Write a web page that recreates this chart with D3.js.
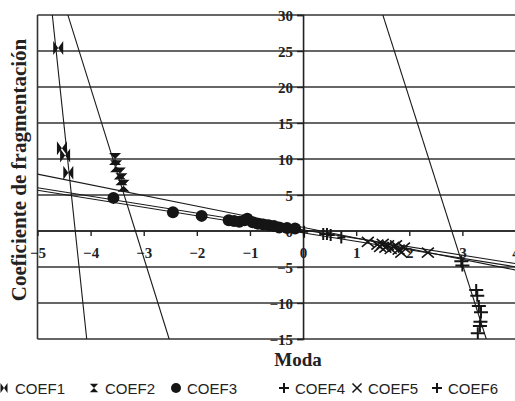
<!DOCTYPE html>
<html>
<head>
<meta charset="utf-8">
<script src="https://cdn.jsdelivr.net/npm/d3@7/dist/d3.min.js"></script>
<style>
  body { margin: 0; background: #fff; }
  svg { display: block; }
</style>
</head>
<body>
<svg id="chart"></svg>
<script>
const WIDTH = 515;
const HEIGHT = 401;
const PLOT = { left: 37.5, right: 515.5, top: 15, bottom: 339 };
const INK = "#151515";

// tick values
const xTicks = [-5, -4, -3, -2, -1, 0, 1, 2, 3, 4];
const yTicks = [-15, -10, -5, 0, 5, 10, 15, 20, 25, 30];

// series
const seriesNames = ["COEF1", "COEF2", "COEF3", "COEF4", "COEF5", "COEF6"];
const coef1X = [-4.61, -4.54, -4.48, -4.42];
const coef1Y = [25.4, 11.5, 10.5, 8.1];
const coef2X = [-3.54, -3.52, -3.45, -3.42, -3.38];
const coef2Y = [10.0, 9.0, 8.0, 7.2, 6.3];
const coef3X = [-3.57, -2.45, -1.91, -1.4, -1.3, -1.2, -1.1, -1.05, -0.95, -0.85, -0.75, -0.65, -0.55, -0.45, -0.3, -0.15];
const coef3Y = [4.6, 2.6, 2.1, 1.5, 1.4, 1.3, 1.5, 1.7, 1.2, 1.0, 0.9, 0.8, 0.7, 0.5, 0.4, 0.35];
const coef4X = [0.02, 0.38, 0.45, 0.52, 0.72];
const coef4Y = [-0.1, -0.4, -0.4, -0.55, -0.9];
const coef5X = [1.22, 1.4, 1.45, 1.5, 1.55, 1.6, 1.65, 1.7, 1.75, 1.8, 1.85, 1.9, 2.35];
const coef5Y = [-1.5, -1.9, -2.2, -1.8, -2.3, -2.0, -2.5, -2.2, -2.0, -2.6, -3.0, -2.3, -3.0];
const coef6X = [2.98, 3.0, 3.26, 3.28, 3.31, 3.35, 3.34, 3.33, 3.29];
const coef6Y = [-4.2, -4.8, -8.2, -9.0, -10.4, -11.3, -12.6, -13.2, -14.2];

// linear trendlines, one per series: y = slope * x + intercept
const trendSlope = [-69.5, -23.6, -1.17, -1.48, -1.18, -23.1];
const trendIntercept = [-298.1, -74.5, 0.15, 0.5, -0.25, 64.7];

const seriesX = [coef1X, coef2X, coef3X, coef4X, coef5X, coef6X];
const seriesY = [coef1Y, coef2Y, coef3Y, coef4Y, coef5Y, coef6Y];

const xScale = d3.scaleLinear().domain([-5, 4]).range([PLOT.left, PLOT.right]);
const yScale = d3.scaleLinear().domain([-15, 30]).range([PLOT.bottom, PLOT.top]);

const svg = d3.select("#chart").attr("width", WIDTH).attr("height", HEIGHT);

svg.append("defs").append("clipPath").attr("id", "plotClip")
   .append("rect")
   .attr("x", PLOT.left).attr("y", PLOT.top)
   .attr("width", PLOT.right - PLOT.left).attr("height", PLOT.bottom - PLOT.top);

// horizontal gridlines (also the plot top and bottom)
svg.append("g")
   .selectAll("line")
   .data(yTicks)
   .join("line")
   .attr("x1", PLOT.left).attr("x2", WIDTH)
   .attr("y1", d => yScale(d)).attr("y2", d => yScale(d))
   .attr("stroke", "#333").attr("stroke-width", 1.6);

// left border of plot area
svg.append("line")
   .attr("x1", PLOT.left).attr("x2", PLOT.left)
   .attr("y1", PLOT.top).attr("y2", PLOT.bottom)
   .attr("stroke", "#333").attr("stroke-width", 1.6);

// axes through the origin
const gx = svg.append("g")
   .attr("transform", `translate(0,${yScale(0)})`)
   .call(d3.axisBottom(xScale).tickValues(xTicks).tickSize(5).tickPadding(11).tickFormat(d3.format("d")));
const gy = svg.append("g")
   .attr("transform", `translate(${xScale(0)},0)`)
   .call(d3.axisLeft(yScale).tickValues(yTicks).tickSize(6).tickPadding(4).tickFormat(d3.format("d")));

[gx, gy].forEach(g => {
   g.select(".domain").attr("stroke", "#222").attr("stroke-width", 1.6);
   g.selectAll(".tick line").attr("stroke", "#222").attr("stroke-width", 1.4);
   g.selectAll(".tick text")
      .attr("fill", "#222")
      .style("font-family", "'Liberation Serif', 'Times New Roman', serif")
      .style("font-size", "15px")
      .style("font-weight", "bold");
});
gx.select(".domain").attr("d", `M${PLOT.left},0H${WIDTH}`);
gy.selectAll(".tick text").attr("dy", "0.35em");

// trendlines
svg.append("g")
   .attr("clip-path", "url(#plotClip)")
   .selectAll("line")
   .data(trendSlope.map((s, i) => ({ s, b: trendIntercept[i] })))
   .join("line")
   .attr("x1", xScale(-5)).attr("x2", xScale(4))
   .attr("y1", d => yScale(d.s * -5 + d.b))
   .attr("y2", d => yScale(d.s * 4 + d.b))
   .attr("stroke", "#1a1a1a").attr("stroke-width", 1.1);

// marker shapes
function markerPath(i, k) {
   if (i === 0) {
      const w = 5 * k, h = 7 * k;
      return `M${-w},${-h}L0,0L${-w},${h}ZM${w},${-h}L0,0L${w},${h}Z`;
   }
   if (i === 1) {
      const w = 6 * k, h = 6 * k;
      return `M${-w},${-h}H${w}L0,0ZM${-w},${h}H${w}L0,0Z`;
   }
   return null;
}

const markers = svg.append("g").attr("clip-path", "url(#plotClip)");
seriesX.forEach((xs, i) => {
   const pts = xs.map((x, j) => [x, seriesY[i][j]]);
   const g = markers.append("g");
   const sel = g.selectAll("g").data(pts).join("g")
      .attr("transform", d => `translate(${xScale(d[0])},${yScale(d[1])})`);
   if (i < 2) {
      sel.append("path").attr("d", markerPath(i, 1)).attr("fill", INK);
   } else if (i === 2) {
      sel.append("circle").attr("r", 6).attr("fill", INK);
   } else if (i === 3) {
      sel.append("path").attr("d", "M-4,0H4M0,-6V6").attr("stroke", INK).attr("stroke-width", 2);
   } else if (i === 4) {
      sel.append("path").attr("d", "M-6,-5L6,5M-6,5L6,-5").attr("stroke", INK).attr("stroke-width", 1.6);
   } else {
      sel.append("path").attr("d", "M-7,0H7M0,-6V6").attr("stroke", INK).attr("stroke-width", 2);
   }
});

// axis titles
svg.append("text")
   .attr("transform", `translate(26,170) rotate(-90)`)
   .attr("text-anchor", "middle")
   .style("font-family", "'Liberation Serif', 'Times New Roman', serif")
   .style("font-size", "21px").style("font-weight", "bold")
   .attr("fill", "#222")
   .text("Coeficiente de fragmentación");

svg.append("text")
   .attr("x", 298).attr("y", 366)
   .attr("text-anchor", "middle")
   .style("font-family", "'Liberation Serif', 'Times New Roman', serif")
   .style("font-size", "19px").style("font-weight", "bold")
   .attr("fill", "#222")
   .text("Moda");

// legend
const legendMarkX = [4, 94, 176, 284, 357, 437];
const legend = svg.append("g").attr("transform", "translate(0,388)");
seriesNames.forEach((name, i) => {
   const item = legend.append("g").attr("transform", `translate(${legendMarkX[i]},0)`);
   if (i < 2) {
      item.append("path").attr("d", markerPath(i, 0.7)).attr("fill", INK);
   } else if (i === 2) {
      item.append("circle").attr("r", 5).attr("fill", INK);
   } else if (i === 4) {
      item.append("path").attr("d", "M-4.5,-4.5L4.5,4.5M-4.5,4.5L4.5,-4.5").attr("stroke", INK).attr("stroke-width", 1.5);
   } else {
      item.append("path").attr("d", "M-5,0H5M0,-5V5").attr("stroke", INK).attr("stroke-width", 2);
   }
   item.append("text")
      .attr("x", 11).attr("y", 5.5)
      .style("font-family", "'Liberation Sans', Arial, sans-serif")
      .style("font-size", "15px")
      .attr("fill", "#222")
      .text(name);
});
</script>
</body>
</html>
